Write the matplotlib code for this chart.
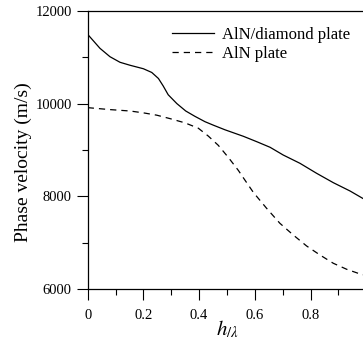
import numpy as np
import matplotlib
matplotlib.use('Agg')
import matplotlib.pyplot as plt
from matplotlib.ticker import MultipleLocator

plt.rcParams['font.family'] = ['Liberation Serif', 'DejaVu Serif']
plt.rcParams['mathtext.fontset'] = 'stix'

# AlN/diamond plate (solid)
hl_diamond = [0.0, 0.044, 0.080, 0.116, 0.152, 0.200, 0.230, 0.254, 0.271,
              0.289, 0.320, 0.352, 0.385, 0.421, 0.451, 0.493, 0.559, 0.607,
              0.655, 0.702, 0.762, 0.822, 0.882, 0.942, 0.99]
v_diamond = [11490, 11190, 11009, 10889, 10825, 10750, 10670, 10540, 10380,
             10190, 10000, 9840, 9725, 9610, 9535, 9435, 9295, 9179,
             9058, 8892, 8714, 8498, 8296, 8117, 7950]

# AlN plate (dashed)
hl_aln = [0.0, 0.080, 0.152, 0.200, 0.248, 0.296, 0.349, 0.397, 0.433,
          0.469, 0.505, 0.541, 0.559, 0.595, 0.643, 0.690, 0.738, 0.786,
          0.834, 0.882, 0.930, 0.978, 1.0]
v_aln = [9912, 9870, 9840, 9800, 9750, 9675, 9585, 9470, 9300,
         9100, 8840, 8560, 8400, 8085, 7740, 7422, 7170, 6933,
         6739, 6560, 6431, 6330, 6300]

fig = plt.figure(figsize=(3.63, 3.42), dpi=100)
# axes goes a bit past the right edge of the picture, as in the reference
ax = fig.add_axes([87.7 / 363, 1 - 289.3 / 342, 278.5 / 363, 278.6 / 342])

ax.plot(hl_diamond, v_diamond, color='black', lw=0.9, label='AlN/diamond plate')
ax.plot(hl_aln, v_aln, color='black', lw=0.9, ls=(0, (5, 4)), label='AlN plate')

ax.set_xlim(0, 1)
ax.set_ylim(6000, 12000)
ax.xaxis.set_minor_locator(MultipleLocator(0.1))
ax.yaxis.set_major_locator(MultipleLocator(2000))
ax.yaxis.set_minor_locator(MultipleLocator(1000))
ax.set_xticks([0, 0.2, 0.4, 0.6, 0.8])
ax.set_xticklabels(['0', '0.2', '0.4', '0.6', '0.8'])
ax.tick_params(which='major', length=8, width=0.8, labelsize=10.5, direction='out')
ax.tick_params(which='minor', length=4, width=0.8, direction='out')
ax.tick_params(axis='x', pad=6)
ax.spines['right'].set_visible(False)
for s in ['top', 'left', 'bottom']:
    ax.spines[s].set_linewidth(0.9)

ax.set_ylabel('Phase velocity (m/s)', fontsize=14)
ax.yaxis.set_label_coords(-0.2, 0.455)
ax.set_xlabel(r'$h_{/\lambda}$', fontsize=15, labelpad=-2)

ax.legend(loc='upper left', bbox_to_anchor=(0.28, 0.965), frameon=False,
          fontsize=12, handlelength=2.5, handletextpad=0.45, labelspacing=0.15,
          borderaxespad=0)

fig.savefig('out.png', dpi=100)
